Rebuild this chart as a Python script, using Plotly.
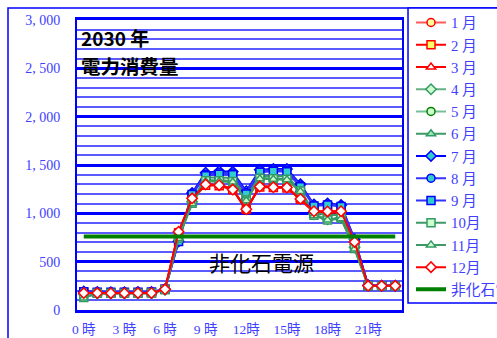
import plotly.graph_objects as go

# Hourly electricity demand for each month, 2030 projection
HOURS = list(range(24))
HOUR_TICKS = [0, 3, 6, 9, 12, 15, 18, 21]
HOUR_LABELS = ["0 時", "3 時", "6 時", "9 時", "12時", "15時", "18時", "21時"]

Y_TICKS = [0, 500, 1000, 1500, 2000, 2500, 3000]
Y_LABELS = ["0", "500", "1, 000", "1, 500", "2, 000", "2, 500", "3, 000"]

MONTH_NAMES = ["1 月", "2 月", "3 月", "4 月", "5 月", "6 月",
               "7 月", "8 月", "9 月", "10月", "11月", "12月"]

jan = [178, 176, 175, 175, 176, 178, 215, 805, 1150, 1295, 1290, 1250,
       1045, 1278, 1272, 1268, 1150, 1025, 1022, 1024, 705, 252, 250, 250]
feb = [180, 177, 176, 176, 177, 179, 214, 800, 1145, 1290, 1285, 1245,
       1040, 1272, 1268, 1262, 1145, 1020, 1018, 1020, 700, 250, 249, 249]
mar = [176, 174, 173, 173, 174, 176, 212, 790, 1140, 1300, 1292, 1255,
       1030, 1282, 1275, 1270, 1140, 1010, 1005, 1008, 695, 248, 248, 248]
apr = [165, 170, 170, 170, 171, 172, 210, 760, 1120, 1340, 1340, 1330,
       1140, 1360, 1355, 1350, 1220, 990, 940, 955, 650, 250, 248, 248]
may = [170, 172, 172, 172, 173, 174, 212, 755, 1115, 1345, 1345, 1335,
       1145, 1365, 1360, 1355, 1225, 985, 935, 950, 645, 248, 248, 248]
jun = [175, 176, 176, 176, 177, 178, 213, 735, 1130, 1370, 1370, 1365,
       1170, 1390, 1385, 1380, 1240, 1010, 980, 985, 660, 250, 250, 250]
jul = [190, 185, 184, 184, 185, 186, 215, 710, 1210, 1420, 1435, 1430,
       1228, 1450, 1458, 1458, 1300, 1092, 1102, 1085, 730, 255, 252, 252]
aug = [192, 186, 185, 185, 186, 187, 216, 715, 1200, 1405, 1420, 1418,
       1215, 1440, 1448, 1446, 1290, 1085, 1095, 1080, 725, 254, 252, 252]
sep = [190, 184, 183, 183, 184, 185, 214, 708, 1195, 1390, 1405, 1400,
       1200, 1425, 1435, 1430, 1275, 1075, 1085, 1070, 722, 253, 251, 251]
oct_ = [130, 172, 172, 172, 173, 175, 210, 745, 1105, 1336, 1338, 1330,
        1138, 1364, 1358, 1352, 1230, 980, 932, 952, 636, 250, 249, 249]
nov = [125, 170, 170, 170, 171, 173, 210, 740, 1100, 1330, 1332, 1325,
       1130, 1358, 1352, 1348, 1225, 975, 930, 945, 630, 248, 248, 248]
dec = [175, 175, 174, 174, 175, 176, 214, 810, 1155, 1298, 1291, 1246,
       1042, 1277, 1270, 1267, 1149, 1022, 1020, 1022, 704, 250, 250, 250]

NONFOSSIL_NAME = "非化石電源"
nonfossil = [760, 760, 760, 760, 760, 760, 760, 760, 760, 760, 760, 760,
             760, 760, 760, 760, 760, 760, 760, 760, 760, 760, 760, 760]

SERIES = [jan, feb, mar, apr, may, jun, jul, aug, sep, oct_, nov, dec]

# line colour, marker symbol, marker edge, marker fill
STYLES = [
    ("#FF5A5A", "circle", "#FF0000", "#FFFF99"),
    ("#FF0000", "square", "#FF0000", "#FFFF66"),
    ("#FF0000", "triangle-up", "#FF0000", "#FFFFFF"),
    ("#66B088", "diamond", "#339966", "#CCFFCC"),
    ("#77C096", "circle", "#008000", "#CCFFCC"),
    ("#3D9966", "triangle-up", "#339966", "#99E6B3"),
    ("#0000FF", "diamond", "#0000FF", "#33CCCC"),
    ("#3333FF", "circle", "#0000FF", "#33CCCC"),
    ("#3333FF", "square", "#0000FF", "#33CCCC"),
    ("#3D9966", "square", "#339966", "#CCFFCC"),
    ("#3D9966", "triangle-up", "#339966", "#CCFFCC"),
    ("#FF0000", "diamond", "#FF0000", "#FFFFFF"),
]

SERIF = "Liberation Serif, Noto Sans CJK JP, serif"
GOTHIC = "Noto Sans CJK JP, sans-serif"
TEXT_BLUE = "#4040FF"

fig = go.Figure()

for name, vals, (lc, sym, edge, fill) in zip(MONTH_NAMES, SERIES, STYLES):
    fig.add_trace(go.Scatter(
        x=HOURS, y=vals, name=name, mode="lines+markers",
        line=dict(color=lc, width=2),
        marker=dict(symbol=sym, size=8, color=fill,
                    line=dict(color=edge, width=1.5)),
    ))

fig.add_trace(go.Scatter(
    x=HOURS, y=nonfossil, name=NONFOSSIL_NAME, mode="lines",
    line=dict(color="#008000", width=4),
))

fig.update_layout(
    width=497, height=338,
    margin=dict(l=77, r=95, t=20, b=28, autoexpand=False),
    paper_bgcolor="white", plot_bgcolor="white",
    hovermode=False,
    legend=dict(
        x=1.0277, y=1.047, xanchor="left", yanchor="top",
        borderwidth=0, bgcolor="rgba(0,0,0,0)",
        font=dict(family=SERIF, size=14.8, color=TEXT_BLUE),
        tracegroupgap=0, maxheight=400,
    ),
    xaxis=dict(
        range=[-0.5, 23.5], tickvals=HOUR_TICKS, ticktext=HOUR_LABELS,
        tickfont=dict(family=SERIF, size=13.5, color=TEXT_BLUE),
        showgrid=False, zeroline=False,
        showline=True, mirror=True, linecolor="#0000FF", linewidth=2.5,
        ticks="", ticklabelstandoff=5,
    ),
    yaxis=dict(
        range=[0, 3000], tickvals=Y_TICKS, ticktext=Y_LABELS,
        tickfont=dict(family=SERIF, size=14, color=TEXT_BLUE),
        showgrid=True, gridcolor="#0000FF", gridwidth=3,
        minor=dict(dtick=100, showgrid=True, gridcolor="#5A5AFF", gridwidth=1.5),
        zeroline=True, zerolinecolor="#0000FF", zerolinewidth=4,
        showline=True, mirror=True, linecolor="#0000FF", linewidth=2,
        ticks="", ticklabelstandoff=12,
    ),
    shapes=[
        # outer chart frame
        dict(type="rect", xref="paper", yref="paper",
             x0=-0.2123, x1=1.6, y0=-0.3, y1=1.0414,
             line=dict(color="#0000FF", width=1.5), fillcolor="rgba(0,0,0,0)",
             layer="below"),
        # legend frame
        dict(type="rect", xref="paper", yref="paper",
             x0=1.0185, x1=1.6, y0=0.0241, y1=1.0414,
             line=dict(color="#0000FF", width=1.5), fillcolor="white",
             layer="below"),
        # white panels behind the text labels
        dict(type="rect", xref="paper", yref="paper",
             x0=0.003, x1=0.357, y0=0.814, y1=0.993,
             line=dict(width=0), fillcolor="white", layer="between"),
        dict(type="rect", xref="paper", yref="paper",
             x0=0.348, x1=0.794, y0=0.110, y1=0.245,
             line=dict(width=0), fillcolor="white", layer="between"),
    ],
    annotations=[
        dict(text="<b>2030 年</b>", xref="paper", yref="paper",
             x=0.006, y=0.938, xanchor="left", yanchor="middle", align="left",
             showarrow=False, font=dict(family=GOTHIC, size=19, color="black")),
        dict(text="<b>電力消費量</b>", xref="paper", yref="paper",
             x=0.006, y=0.843, xanchor="left", yanchor="middle", align="left",
             showarrow=False, font=dict(family=GOTHIC, size=19.5, color="black")),
        dict(text="非化石電源", xref="paper", yref="paper",
             x=0.569, y=0.1655, xanchor="center", yanchor="middle",
             showarrow=False, font=dict(family=GOTHIC, size=21, color="black")),
    ],
)

fig.write_html("out.html")
